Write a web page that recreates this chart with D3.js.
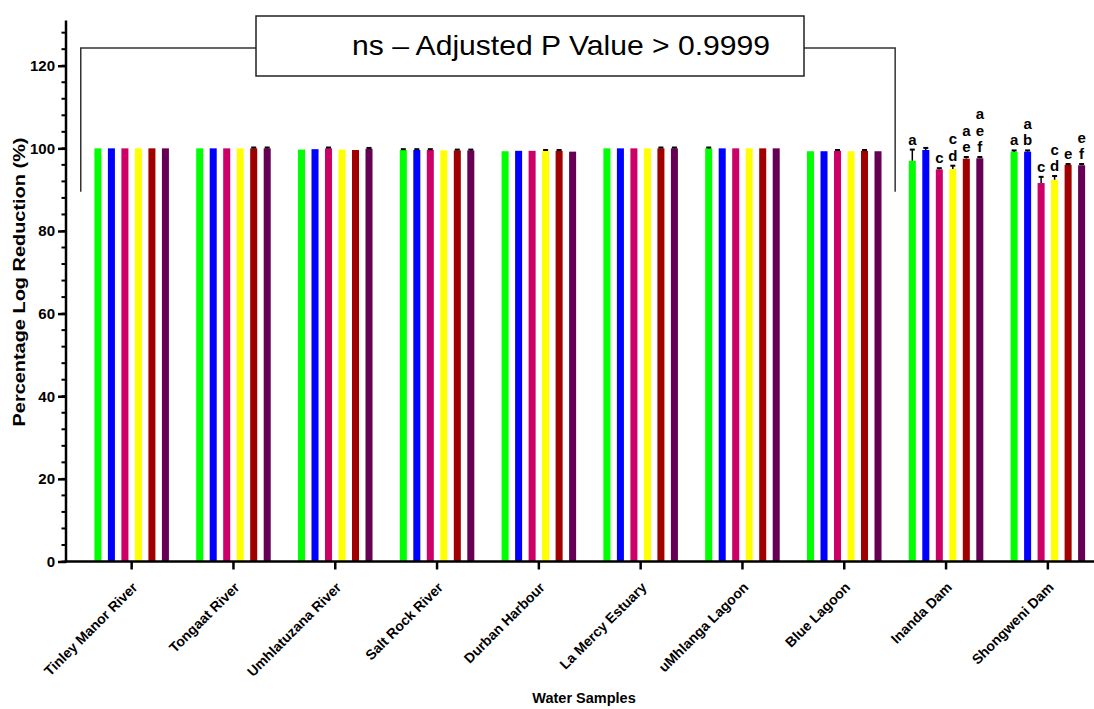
<!DOCTYPE html>
<html>
<head>
<meta charset="utf-8">
<script src="https://cdn.jsdelivr.net/npm/d3@7"></script>
<style>
  body { margin: 0; background: #fff; }
  text { font-family: "Liberation Sans", Arial, sans-serif; }
</style>
</head>
<body>
<div id="chart"></div>
<script>
// categories and series
var samples = ["Tinley Manor River", "Tongaat River", "Umhlatuzana River", "Salt Rock River",
  "Durban Harbour", "La Mercy Estuary", "uMhlanga Lagoon", "Blue Lagoon", "Inanda Dam", "Shongweni Dam"];
var seriesNames = ["S1", "S2", "S3", "S4", "S5", "S6"];
var seriesColors = ["#00ff00", "#0000ff", "#cc0066", "#ffff00", "#a00000", "#660055"];

// mean percentage log reduction per series
var s1 = [100, 100, 99.7, 99.6, 99.3, 100, 100, 99.3, 97.0, 99.2];
var s2 = [100, 100, 99.8, 99.6, 99.4, 100, 100, 99.3, 99.6, 99.2];
var s3 = [100, 100, 100, 99.6, 99.4, 100, 100, 99.4, 94.9, 91.6];
var s4 = [100, 100, 99.7, 99.5, 99.4, 100, 100, 99.3, 95.0, 92.4];
var s5 = [100, 100, 99.6, 99.5, 99.4, 100, 100, 99.4, 97.5, 96.0];
var s6 = [100, 100, 99.9, 99.5, 99.2, 100, 100, 99.3, 97.6, 95.9];

// error (upper) per series
var e1 = [0, 0, 0, 0.2, 0, 0, 0.2, 0, 2.7, 0.3];
var e2 = [0, 0, 0, 0.2, 0, 0, 0, 0, 0.5, 0.3];
var e3 = [0, 0, 0.2, 0.2, 0, 0, 0, 0.2, 0.3, 1.5];
var e4 = [0, 0, 0, 0, 0.2, 0, 0, 0, 0.8, 0.9];
var e5 = [0, 0.2, 0, 0.2, 0.2, 0.2, 0, 0.2, 0.4, 0.2];
var e6 = [0, 0.2, 0.2, 0.2, 0, 0.2, 0, 0, 0.3, 0.3];

var yTicks = [0, 20, 40, 60, 80, 100, 120];

// significance letters (only the two dams)
var lettersInanda = ["a", "", "c", "cd", "ae", "aef"];
var lettersShongweni = ["a", "ab", "c", "cd", "e", "ef"];

var means = [s1, s2, s3, s4, s5, s6];
var errs = [e1, e2, e3, e4, e5, e6];
var letters = {"Inanda Dam": lettersInanda, "Shongweni Dam": lettersShongweni};

var data = [];
samples.forEach(function(s, i) {
  seriesNames.forEach(function(n, j) {
    data.push({sample: s, series: n, idx: j, value: means[j][i], err: errs[j][i],
      letter: letters[s] ? letters[s][j] : ""});
  });
});

var width = 1094, height = 709;
var axisX = 66;

var svg = d3.select("#chart").append("svg")
  .attr("width", width)
  .attr("height", height);

var x = d3.scaleBand()
  .domain(samples)
  .range([axisX, axisX + 101.8 * 10.29])
  .paddingInner(0)
  .paddingOuter(0.145);

var xIn = d3.scaleBand()
  .domain(seriesNames)
  .range([-40.5, 40.5])
  .paddingInner(0.48)
  .paddingOuter(0.24);

var y = d3.scaleLinear()
  .domain([0, 130])
  .range([561.5, 24.4]);

// bars
svg.append("g")
  .selectAll("rect")
  .data(data)
  .enter()
  .append("rect")
  .attr("x", function(d) { return x(d.sample) + x.bandwidth() / 2 + xIn(d.series); })
  .attr("width", xIn.bandwidth())
  .attr("y", function(d) { return y(d.value); })
  .attr("height", function(d) { return y(0) - y(d.value); })
  .style("fill", function(d) { return seriesColors[d.idx]; });

// error bars (upper only)
var eb = svg.append("g")
  .selectAll("g")
  .data(data.filter(function(d) { return d.err > 0; }))
  .enter()
  .append("g")
  .attr("transform", function(d) {
    return "translate(" + (x(d.sample) + x.bandwidth() / 2 + xIn(d.series) + xIn.bandwidth() / 2) + ",0)";
  });
eb.append("line")
  .attr("y1", function(d) { return y(d.value); })
  .attr("y2", function(d) { return y(d.value + d.err); })
  .style("stroke", "#000")
  .style("stroke-width", 1.5);
eb.append("line")
  .attr("x1", -2.5).attr("x2", 2.5)
  .attr("y1", function(d) { return y(d.value + d.err); })
  .attr("y2", function(d) { return y(d.value + d.err); })
  .style("stroke", "#000")
  .style("stroke-width", 2);

// significance letters, stacked
data.filter(function(d) { return d.letter; }).forEach(function(d) {
  var cx = x(d.sample) + x.bandwidth() / 2 + xIn(d.series) + xIn.bandwidth() / 2;
  var base = y(d.value + d.err) - 5;
  var chars = d.letter.split("");
  chars.forEach(function(c, k) {
    svg.append("text")
      .attr("x", cx)
      .attr("y", base - (chars.length - 1 - k) * 16.5)
      .attr("text-anchor", "middle")
      .style("font-size", "15px")
      .style("font-weight", "bold")
      .text(c);
  });
});

// y axis
var yMinor = d3.range(0, 129, 4);
svg.append("g")
  .selectAll("line")
  .data(yMinor)
  .enter()
  .append("line")
  .attr("x1", axisX - 4.5).attr("x2", axisX)
  .attr("y1", function(d) { return y(d); })
  .attr("y2", function(d) { return y(d); })
  .style("stroke", "#000")
  .style("stroke-width", 2);

var yAxis = svg.append("g")
  .attr("transform", "translate(" + axisX + ",0)")
  .call(d3.axisLeft(y).tickValues(yTicks).tickSize(8).tickPadding(3).tickFormat(d3.format("d")));
yAxis.select(".domain").remove();
yAxis.selectAll(".tick line").style("stroke", "#000").style("stroke-width", 2.5);
yAxis.selectAll("text").style("font-size", "15px").style("font-weight", "bold").style("font-family", "'Liberation Sans', Arial, sans-serif");

svg.append("line")
  .attr("x1", axisX).attr("x2", axisX)
  .attr("y1", y(130) - 4).attr("y2", y(0) + 1.25)
  .style("stroke", "#000")
  .style("stroke-width", 2.5);

// x axis
var xAxis = svg.append("g")
  .attr("transform", "translate(0," + y(0) + ")")
  .call(d3.axisBottom(x).tickSize(8).tickSizeOuter(0));
xAxis.select(".domain").remove();
xAxis.selectAll(".tick line").style("stroke", "#000").style("stroke-width", 2.5);
xAxis.selectAll("text")
  .attr("text-anchor", "end")
  .attr("dx", 0)
  .attr("dy", 0)
  .attr("transform", "translate(-1,19) rotate(-45)")
  .style("font-size", "14px")
  .style("font-weight", "bold")
  .style("font-family", "'Liberation Sans', Arial, sans-serif");

svg.append("line")
  .attr("x1", axisX - 1.25).attr("x2", width)
  .attr("y1", y(0)).attr("y2", y(0))
  .style("stroke", "#000")
  .style("stroke-width", 2.5);

// axis titles
svg.append("text")
  .attr("transform", "translate(25," + 282 + ") rotate(-90)")
  .attr("text-anchor", "middle")
  .attr("textLength", 289)
  .attr("lengthAdjust", "spacingAndGlyphs")
  .style("font-size", "16px")
  .style("font-weight", "bold")
  .text("Percentage Log Reduction (%)");

svg.append("text")
  .attr("x", 584)
  .attr("y", 703)
  .attr("text-anchor", "middle")
  .style("font-size", "14.5px")
  .style("font-weight", "bold")
  .text("Water Samples");

// ns bracket over the first eight samples
var bl = x(samples[0]);
var br = x(samples[7]) + x.bandwidth();
var by = y(124.3), bb = y(89.5);
var boxL = 256, boxR = 804, boxT = 16, boxB = 76;
svg.append("path")
  .attr("d", "M" + bl + "," + bb + "V" + by + "H" + boxL)
  .style("fill", "none").style("stroke", "#333").style("stroke-width", 1.5);
svg.append("path")
  .attr("d", "M" + boxR + "," + by + "H" + br + "V" + bb)
  .style("fill", "none").style("stroke", "#333").style("stroke-width", 1.5);
svg.append("rect")
  .attr("x", boxL).attr("y", boxT)
  .attr("width", boxR - boxL).attr("height", boxB - boxT)
  .style("fill", "#fff").style("stroke", "#222").style("stroke-width", 1.5);
svg.append("text")
  .attr("x", 352)
  .attr("y", 55)
  .attr("textLength", 418)
  .attr("lengthAdjust", "spacingAndGlyphs")
  .style("font-size", "28px")
  .text("ns \u2013 Adjusted P Value > 0.9999");
</script>
</body>
</html>
